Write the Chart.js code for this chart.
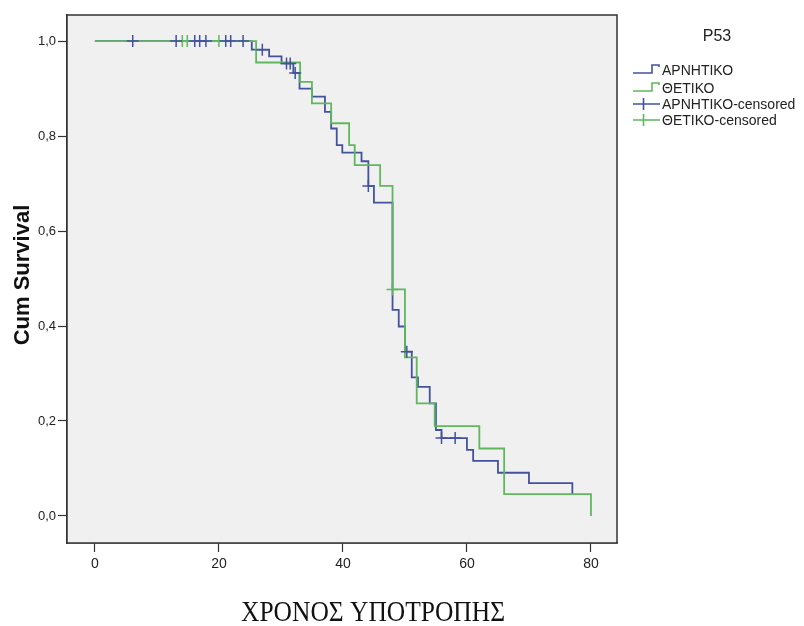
<!DOCTYPE html>
<html>
<head>
<meta charset="utf-8">
<title>P53 - Cum Survival</title>
<script src="https://cdn.jsdelivr.net/npm/chart.js@4.4.1/dist/chart.umd.min.js"></script>
<style>
  html, body { margin: 0; padding: 0; background: #fff; }
  #wrap { width: 804px; height: 626px; }
</style>
</head>
<body>
<div id="wrap"><canvas id="survivalChart" width="804" height="626"></canvas></div>
<script>
// Kaplan-Meier steps (time, survival after the step)
const negTimes = [0, 25.3, 28.1, 30.1, 32.0, 33.0, 35.0, 37.1, 38.1, 39.0, 39.9, 43.0, 44.1, 45.0, 48.0, 49.0, 50.0, 51.1, 52.1, 54.0, 55.0, 55.9, 60.0, 61.0, 65.0, 70.0, 77.0];
const negSurv = [1.0, 0.982, 0.968, 0.953, 0.933, 0.900, 0.883, 0.851, 0.816, 0.781, 0.765, 0.747, 0.695, 0.660, 0.434, 0.399, 0.346, 0.292, 0.272, 0.237, 0.181, 0.164, 0.139, 0.116, 0.091, 0.069, 0.046];

const posTimes = [0, 26.0, 33.1, 35.0, 38.1, 41.0, 41.9, 46.0, 48.0, 50.0, 51.9, 54.8, 62.0, 66.0, 80.0];
const posSurv = [1.0, 0.955, 0.914, 0.869, 0.827, 0.781, 0.739, 0.695, 0.477, 0.334, 0.237, 0.189, 0.142, 0.046, 0.0];

// censored cases
const negCensTimes = [6.1, 13.1, 16.1, 16.9, 17.9, 21.1, 21.9, 23.9, 27.0, 30.9, 31.5, 32.3, 44.1, 50.3, 55.9, 58.1];
const negCensSurv = [1, 1, 1, 1, 1, 1, 1, 1, 0.982, 0.953, 0.953, 0.933, 0.695, 0.346, 0.164, 0.164];
const posCensTimes = [14.1, 14.9, 20.0, 48.0];
const posCensSurv = [1, 1, 1, 0.477];

const xTicks = [0, 20, 40, 60, 80];
const yTicks = [0, 0.2, 0.4, 0.6, 0.8, 1.0];

const groupLabels = ["ΑΡΝΗΤΙΚΟ", "ΘΕΤΙΚΟ", "ΑΡΝΗΤΙΚΟ-censored", "ΘΕΤΙΚΟ-censored"];

const BLUE = "#44529e";
const GREEN = "#5fb85e";
const SANS = "'Liberation Sans', Arial, sans-serif";

function toPoints(xs, ys) {
  return xs.map((x, i) => ({ x: x, y: ys[i] }));
}

// grey plot area + frame
const plotBox = {
  id: "plotBox",
  beforeDatasetsDraw(chart) {
    const { ctx, chartArea: a } = chart;
    ctx.save();
    ctx.fillStyle = "#f0f0f0";
    ctx.fillRect(a.left, a.top, a.right - a.left, a.bottom - a.top);
    ctx.restore();
  },
  afterDraw(chart) {
    const { ctx, chartArea: a } = chart;
    ctx.save();
    ctx.strokeStyle = "#333";
    ctx.lineWidth = 1.5;
    ctx.strokeRect(a.left, a.top, a.right - a.left, a.bottom - a.top);
    ctx.restore();
  },
};

// axis titles and the legend on the right
const labelsPlugin = {
  id: "labelsPlugin",
  afterDraw(chart) {
    const ctx = chart.ctx;
    ctx.save();

    ctx.fillStyle = "#111";
    ctx.font = "bold 22px " + SANS;
    ctx.textAlign = "center";
    ctx.textBaseline = "middle";
    ctx.translate(23, 275);
    ctx.rotate(-Math.PI / 2);
    ctx.fillText("Cum Survival", 0, 0);
    ctx.setTransform(1, 0, 0, 1, 0, 0);

    ctx.font = "29px 'Liberation Serif', 'Times New Roman', serif";
    ctx.textBaseline = "alphabetic";
    ctx.fillText("ΧΡΟΝΟΣ ΥΠΟΤΡΟΠΗΣ", 373, 621, 264);

    ctx.fillStyle = "#222";
    ctx.font = "16px " + SANS;
    ctx.textBaseline = "middle";
    ctx.fillText("P53", 717, 37);

    const rows = [70, 88, 104, 120];
    const colors = [BLUE, GREEN, BLUE, GREEN];
    ctx.font = "14px " + SANS;
    ctx.textAlign = "left";
    rows.forEach((y, i) => {
      ctx.strokeStyle = colors[i];
      ctx.lineWidth = 1.6;
      ctx.beginPath();
      if (i < 2) {
        ctx.moveTo(633, y + 3);
        ctx.lineTo(652, y + 3);
        ctx.lineTo(652, y - 5);
        ctx.lineTo(659, y - 5);
        ctx.lineTo(659, y - 3);
      } else {
        ctx.moveTo(633, y);
        ctx.lineTo(660, y);
        ctx.moveTo(643.5, y - 6);
        ctx.lineTo(643.5, y + 6);
      }
      ctx.stroke();
      ctx.fillStyle = "#222";
      ctx.fillText(groupLabels[i], 662, y + 1);
    });

    ctx.restore();
  },
};

const ctx = document.getElementById("survivalChart").getContext("2d");

const survivalChart = new Chart(ctx, {
  type: "line",
  data: {
    datasets: [
      {
        label: groupLabels[2],
        data: toPoints(negCensTimes, negCensSurv),
        showLine: false,
        pointStyle: "cross",
        pointRadius: 6,
        borderColor: BLUE,
        borderWidth: 1.5,
        order: 0,
      },
      {
        label: groupLabels[3],
        data: toPoints(posCensTimes, posCensSurv),
        showLine: false,
        pointStyle: "cross",
        pointRadius: 6,
        borderColor: GREEN,
        borderWidth: 1.5,
        order: 1,
      },
      {
        label: groupLabels[1],
        data: toPoints(posTimes, posSurv),
        stepped: "before",
        borderColor: GREEN,
        borderWidth: 1.8,
        pointRadius: 0,
        fill: false,
        order: 2,
      },
      {
        label: groupLabels[0],
        data: toPoints(negTimes, negSurv),
        stepped: "before",
        borderColor: BLUE,
        borderWidth: 1.8,
        pointRadius: 0,
        fill: false,
        order: 3,
      },
    ],
  },
  options: {
    responsive: false,
    animation: false,
    layout: {
      padding: { left: 0, top: 15, right: 187, bottom: 43 },
    },
    plugins: {
      legend: { display: false },
      tooltip: { enabled: false },
    },
    scales: {
      x: {
        type: "linear",
        min: -4.5,
        max: 84.2,
        afterBuildTicks: (scale) => {
          scale.ticks = xTicks.map((v) => ({ value: v }));
        },
        afterFit: (scale) => {
          scale.height = 40;
        },
        grid: {
          drawOnChartArea: false,
          tickLength: 9,
          tickColor: "#333",
          tickWidth: 1.2,
        },
        border: { display: true, color: "#333", width: 1.5 },
        ticks: {
          color: "#222",
          font: { family: SANS, size: 14 },
          padding: 4,
          maxRotation: 0,
          autoSkip: false,
          callback: (v) => String(v),
        },
      },
      y: {
        type: "linear",
        min: -0.057,
        max: 1.055,
        afterBuildTicks: (scale) => {
          scale.ticks = yTicks.map((v) => ({ value: v }));
        },
        afterFit: (scale) => {
          scale.width = 67;
        },
        grid: {
          drawOnChartArea: false,
          tickLength: 9,
          tickColor: "#333",
          tickWidth: 1.2,
        },
        border: { display: true, color: "#333", width: 1.5 },
        ticks: {
          color: "#222",
          font: { family: SANS, size: 13 },
          padding: 2,
          autoSkip: false,
          callback: (v) => Number(v).toFixed(1).replace(".", ","),
        },
      },
    },
  },
  plugins: [plotBox, labelsPlugin],
});
</script>
</body>
</html>
